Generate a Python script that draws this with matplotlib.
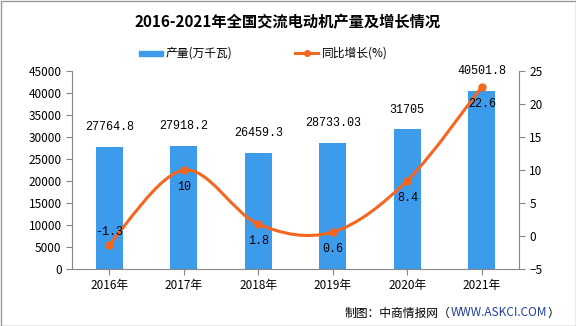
import numpy as np
import matplotlib.pyplot as plt
from matplotlib.path import Path
from matplotlib.patches import PathPatch, Rectangle
from matplotlib.lines import Line2D

plt.rcParams['font.family'] = ['Noto Sans CJK SC', 'DejaVu Sans']

years = ['2016年', '2017年', '2018年', '2019年', '2020年', '2021年']
output = [27764.8, 27918.2, 26459.3, 28733.03, 31705, 40501.8]
output_labels = ['27764.8', '27918.2', '26459.3', '28733.03', '31705', '40501.8']
growth = [-1.3, 10, 1.8, 0.6, 8.4, 22.6]
growth_labels = ['-1.3', '10', '1.8', '0.6', '8.4', '22.6']

BLUE = '#3d9bec'
ORANGE = '#f5661f'

fig = plt.figure(figsize=(5.76, 3.26), dpi=100)
ax = fig.add_axes([72 / 576, 1 - 269 / 326, 447 / 576, 198 / 326])
ax2 = ax.twinx()

x = np.arange(len(years))
ax.bar(x, output, width=0.36, color=BLUE, zorder=2)
for xi, v, lab in zip(x, output, output_labels):
    ax.annotate(lab, (xi, v), xytext=(0, 10), textcoords='offset points',
                ha='center', va='bottom', fontsize=8.5, family='Liberation Mono')

ax.set_xlim(-0.5, len(years) - 0.5)
ax.set_ylim(0, 45000)
ax.set_yticks(np.arange(0, 45001, 5000))
ax.set_xticks(x)
ax.set_xticklabels(years, fontsize=8.5)
ax2.set_ylim(-5, 25)
ax2.set_yticks(np.arange(-5, 26, 5))

# smooth line through the growth points (Catmull-Rom as cubic Bezier)
pts = np.column_stack([x, growth]).astype(float)
verts = [pts[0]]
codes = [Path.MOVETO]
for i in range(len(pts) - 1):
    p0 = pts[i - 1] if i > 0 else pts[i]
    p1, p2 = pts[i], pts[i + 1]
    p3 = pts[i + 2] if i + 2 < len(pts) else pts[i + 1]
    c1 = p1 + (p2 - p0) / 6
    c2 = p2 - (p3 - p1) / 6
    verts += [c1, c2, p2]
    codes += [Path.CURVE4] * 3
ax2.add_patch(PathPatch(Path(verts, codes), fill=False, edgecolor=ORANGE, lw=2.2, zorder=3))
ax2.plot(x, growth, 'o', color=ORANGE, ms=5, zorder=4)
for xi, v, lab in zip(x, growth, growth_labels):
    dy = 5 if v < 0 else -8
    ax2.annotate(lab, (xi, v), xytext=(0, dy), textcoords='offset points',
                 ha='center', va='bottom' if v < 0 else 'top', fontsize=8.5,
                 family='Liberation Mono')

for a in (ax, ax2):
    a.spines['top'].set_visible(False)
    a.tick_params(labelsize=8.5, color='#888888', length=4)
    for s in a.spines.values():
        s.set_color('#888888')
ax.spines['right'].set_visible(False)
ax2.spines['left'].set_visible(False)
ax2.spines['bottom'].set_visible(False)

fig.text(0.5, 1 - 22 / 326, '2016-2021年全国交流电动机产量及增长情况', ha='center', va='center',
         fontsize=11, fontweight='bold')

# legend
fig.patches.append(Rectangle((139 / 576, 1 - 56 / 326), 24 / 576, 5 / 326,
                             transform=fig.transFigure, color=BLUE))
fig.text(166 / 576, 1 - 53 / 326, '产量(万千瓦)', va='center', fontsize=8.5)
fig.lines.append(Line2D([295 / 576, 318 / 576], [1 - 53 / 326] * 2, transform=fig.transFigure,
                        color=ORANGE, lw=2.2))
fig.lines.append(Line2D([306.5 / 576], [1 - 53 / 326], transform=fig.transFigure,
                        color=ORANGE, marker='o', ms=4))
fig.text(322 / 576, 1 - 53 / 326, '同比增长(%)', va='center', fontsize=8.5)

# source note, pieces chained one after another
t1 = fig.text(345 / 576, 1 - 313 / 326, '制图：中商情报网（', ha='left', va='center', fontsize=8.5)
t2 = ax.annotate('WWW.ASKCI.COM', xy=(1, 0.5), xycoords=t1, fontsize=8.5, color='#1f3f9f',
                 va='center', ha='left', annotation_clip=False)
ax.annotate('）', xy=(1, 0.5), xycoords=t2, fontsize=8.5, va='center', ha='left',
            annotation_clip=False)

fig.patches.append(Rectangle((0.5 / 576, 0.5 / 326), 575 / 576, 325 / 326, transform=fig.transFigure,
                             fill=False, edgecolor='#999999', lw=1))

fig.savefig('out.png', dpi=100)
